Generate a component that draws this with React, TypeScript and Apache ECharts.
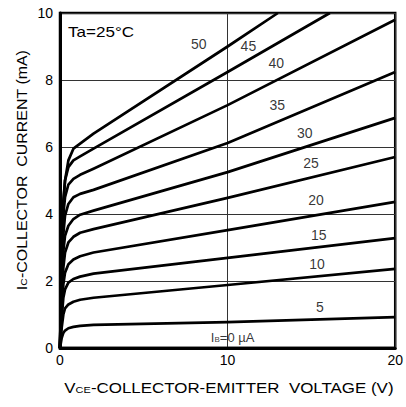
import React, { useEffect, useRef } from "react";
import * as echarts from "echarts";

const vce = [0, 0.05, 0.1, 0.2, 0.3, 0.5, 0.8, 1.2, 2, 10, 20];
const ib0 = [0, 0, 0, 0, 0, 0, 0, 0, 0, 0, 0];
const ib5 = [0, 0.15, 0.3, 0.45, 0.52, 0.59, 0.63, 0.66, 0.69, 0.77, 0.92];
const ib10 = [0, 0.3, 0.6, 1.0, 1.18, 1.3, 1.38, 1.44, 1.5, 1.88, 2.36];
const ib15 = [0, 0.45, 0.9, 1.5, 1.75, 1.95, 2.06, 2.13, 2.22, 2.69, 3.28];
const ib20 = [0, 0.55, 1.1, 1.9, 2.25, 2.5, 2.64, 2.74, 2.85, 3.52, 4.36];
const ib25 = [0, 0.7, 1.4, 2.4, 2.85, 3.15, 3.32, 3.44, 3.55, 4.48, 5.7];
const ib30 = [0, 0.85, 1.7, 2.9, 3.35, 3.65, 3.85, 3.98, 4.1, 5.25, 6.87];
const ib35 = [0, 1.0, 2.0, 3.4, 3.95, 4.3, 4.5, 4.6, 4.72, 6.12, 8.24];
const ib40 = [0, 1.2, 2.4, 4.0, 4.5, 4.88, 5.05, 5.17, 5.35, 7.25, 9.8];
const vce45 = [0, 0.05, 0.1, 0.2, 0.3, 0.5, 0.8, 1.2, 2, 10, 16.1];
const ib45 = [0, 1.3, 2.6, 4.4, 5.0, 5.4, 5.6, 5.72, 5.95, 8.24, 10];
const vce50 = [0, 0.05, 0.1, 0.2, 0.3, 0.5, 0.8, 1.2, 2, 10, 13];
const ib50 = [0, 1.25, 2.5, 4.3, 5.0, 5.6, 5.95, 6.1, 6.4, 9.0, 10];

const curveLabels = ["5", "10", "15", "20", "25", "30", "35", "40", "45", "50"];
const labelV = [15.5, 15.33, 15.44, 15.27, 14.97, 14.6, 12.96, 12.9, 11.24, 8.28];
const labelI = [1.22, 2.51, 3.37, 4.42, 5.52, 6.42, 7.25, 8.5, 9.01, 9.07];

const xTicks = [0, 10, 20];
const yTicks = [0, 2, 4, 6, 8, 10];

const FONT = "'Liberation Sans', Arial, Helvetica, sans-serif";

function pairs(xs: number[], ys: number[]) {
  return xs.map((x, i) => [x, ys[i]]);
}

const richTitle = {
  a: { fontSize: 14, fill: "#000", fontFamily: FONT },
  s: { fontSize: 9, fill: "#000", fontFamily: FONT, padding: [4, 0, 0, 0] },
};

export default function App() {
  const ref = useRef<HTMLDivElement>(null);
  useEffect(() => {
    if (!ref.current) return;
    const chart = echarts.init(ref.current, undefined, { renderer: "svg" });
    const curves: [number[], number[]][] = [
      [vce, ib0],
      [vce, ib5],
      [vce, ib10],
      [vce, ib15],
      [vce, ib20],
      [vce, ib25],
      [vce, ib30],
      [vce, ib35],
      [vce, ib40],
      [vce45, ib45],
      [vce50, ib50],
    ];
    const lineSeries = curves.map(([xs, ys]) => ({
      type: "line",
      data: pairs(xs, ys),
      showSymbol: false,
      smooth: false,
      lineStyle: { color: "#000", width: 2.7, join: "round" },
      silent: true,
      z: 3,
    }));
    const labelData = curveLabels.map((t, i) => ({ value: [labelV[i], labelI[i]], name: t }));
    chart.setOption({
      animation: false,
      backgroundColor: "#fff",
      textStyle: { fontFamily: FONT },
      grid: {
        left: 60,
        right: 8,
        top: 13,
        bottom: 59,
        show: true,
        borderColor: "#000",
        borderWidth: 2.5,
        containLabel: false,
      },
      xAxis: {
        type: "value",
        min: xTicks[0],
        max: xTicks[xTicks.length - 1],
        interval: 10,
        axisLine: { show: true, lineStyle: { color: "#000", width: 3 } },
        axisTick: { show: false },
        axisLabel: { color: "#000", fontSize: 14, fontFamily: FONT, margin: 5 },
        splitLine: { show: true, lineStyle: { color: "#333", width: 1 } },
      },
      yAxis: {
        type: "value",
        min: yTicks[0],
        max: yTicks[yTicks.length - 1],
        interval: 2,
        axisLine: { show: true, lineStyle: { color: "#000", width: 3 } },
        axisTick: { show: false },
        axisLabel: { color: "#000", fontSize: 14, fontFamily: FONT, margin: 7 },
        splitLine: { show: true, lineStyle: { color: "#333", width: 1 } },
      },
      graphic: [
        {
          type: "text",
          x: 229,
          y: 388,
          scaleX: 1.21,
          style: {
            text: "{a|V}{s|CE}{a|-COLLECTOR-EMITTER  VOLTAGE (V)}",
            rich: richTitle,
            align: "center",
            verticalAlign: "middle",
            fill: "#000",
          },
        },
        {
          type: "text",
          x: 22,
          y: 170,
          rotation: Math.PI / 2,
          scaleX: 1.14,
          style: {
            text: "{a|I}{s|C}{a|-COLLECTOR  CURRENT (mA)}",
            rich: richTitle,
            align: "center",
            verticalAlign: "middle",
            fill: "#000",
          },
        },
        {
          type: "text",
          x: 68,
          y: 32,
          scaleX: 1.22,
          style: {
            text: "Ta=25°C",
            font: `14px ${FONT}`,
            align: "left",
            verticalAlign: "middle",
            fill: "#000",
          },
        },
      ],
      series: [
        ...lineSeries,
        {
          type: "scatter",
          data: labelData,
          symbolSize: 0,
          silent: true,
          z: 5,
          label: {
            show: true,
            position: "inside",
            formatter: (p: any) => p.name,
            color: "#000",
            fontSize: 14,
            fontFamily: FONT,
          },
        },
        {
          type: "scatter",
          data: [{ value: [9.0, 0.3], name: "ib0" }],
          symbolSize: 0,
          silent: true,
          z: 5,
          label: {
            show: true,
            position: "right",
            distance: 0,
            formatter: () => "{a|I}{s|B}{a|=0 µA}",
            rich: {
              a: { fontSize: 13, color: "#000", fontFamily: FONT },
              s: { fontSize: 8, color: "#000", fontFamily: FONT, padding: [3, 0, 0, 0] },
            },
          },
        },
      ],
    });
    return () => chart.dispose();
  }, []);
  return <div ref={ref} style={{ width: 406, height: 407, position: "absolute", left: 0, top: 0 }} />;
}
